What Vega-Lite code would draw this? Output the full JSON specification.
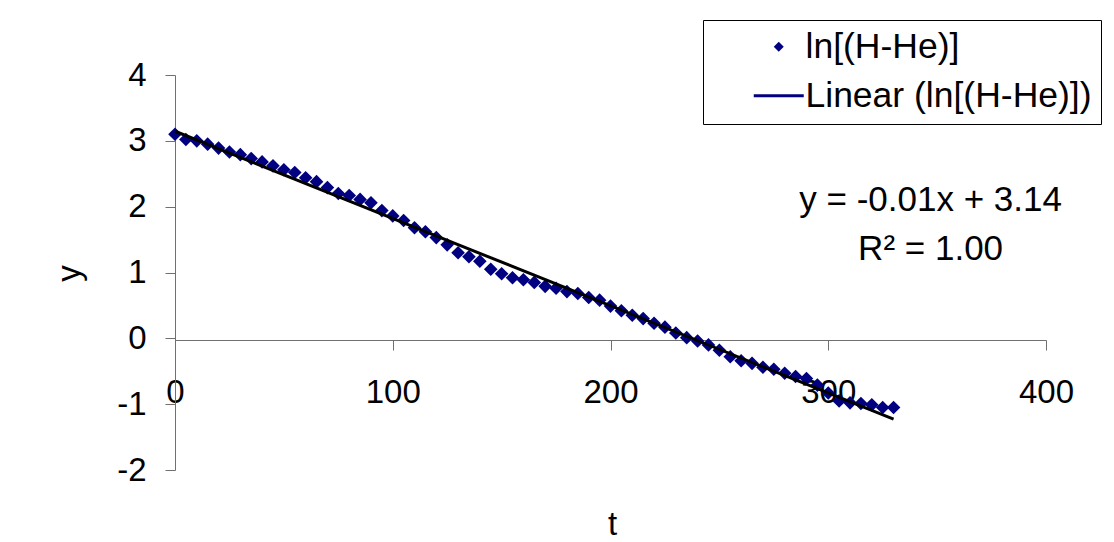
{
  "$schema": "https://vega.github.io/schema/vega-lite/v6.json",
  "width": 871,
  "height": 395,
  "autosize": "none",
  "padding": {"left": 175, "top": 75, "right": 68, "bottom": 72},
  "background": "white",
  "config": {
    "font": "Liberation Sans",
    "view": {"stroke": null},
    "axis": {
      "grid": false,
      "labelFont": "Liberation Sans",
      "titleFont": "Liberation Sans",
      "labelFontSize": 33,
      "titleFontSize": 33,
      "labelColor": "#000000",
      "titleColor": "#000000",
      "titleFontWeight": "normal",
      "domainColor": "#707070",
      "tickColor": "#707070",
      "tickSize": 10,
      "labelOverlap": false,
      "labelFlush": false
    }
  },
  "data": {
    "values": [
      {"t": 0, "v": 3.10}, {"t": 5, "v": 3.02}, {"t": 10, "v": 3.00}, {"t": 15, "v": 2.95},
      {"t": 20, "v": 2.89}, {"t": 25, "v": 2.83}, {"t": 30, "v": 2.79}, {"t": 35, "v": 2.73},
      {"t": 40, "v": 2.68}, {"t": 45, "v": 2.62}, {"t": 50, "v": 2.56}, {"t": 55, "v": 2.52},
      {"t": 60, "v": 2.44}, {"t": 65, "v": 2.38}, {"t": 70, "v": 2.29}, {"t": 75, "v": 2.20},
      {"t": 80, "v": 2.17}, {"t": 85, "v": 2.11}, {"t": 90, "v": 2.06}, {"t": 95, "v": 1.94},
      {"t": 100, "v": 1.86}, {"t": 105, "v": 1.79}, {"t": 110, "v": 1.68}, {"t": 115, "v": 1.62},
      {"t": 120, "v": 1.53}, {"t": 125, "v": 1.42}, {"t": 130, "v": 1.30}, {"t": 135, "v": 1.24},
      {"t": 140, "v": 1.17}, {"t": 145, "v": 1.05}, {"t": 150, "v": 0.98}, {"t": 155, "v": 0.92},
      {"t": 160, "v": 0.89}, {"t": 165, "v": 0.85}, {"t": 170, "v": 0.79}, {"t": 175, "v": 0.76},
      {"t": 180, "v": 0.71}, {"t": 185, "v": 0.68}, {"t": 190, "v": 0.62}, {"t": 195, "v": 0.58},
      {"t": 200, "v": 0.49}, {"t": 205, "v": 0.42}, {"t": 210, "v": 0.35}, {"t": 215, "v": 0.30},
      {"t": 220, "v": 0.23}, {"t": 225, "v": 0.17}, {"t": 230, "v": 0.08}, {"t": 235, "v": 0.01},
      {"t": 240, "v": -0.04}, {"t": 245, "v": -0.10}, {"t": 250, "v": -0.18}, {"t": 255, "v": -0.28},
      {"t": 260, "v": -0.34}, {"t": 265, "v": -0.38}, {"t": 270, "v": -0.44}, {"t": 275, "v": -0.47},
      {"t": 280, "v": -0.53}, {"t": 285, "v": -0.58}, {"t": 290, "v": -0.61}, {"t": 295, "v": -0.71},
      {"t": 300, "v": -0.83}, {"t": 305, "v": -0.95}, {"t": 310, "v": -0.98}, {"t": 315, "v": -0.99},
      {"t": 320, "v": -1.01}, {"t": 325, "v": -1.05}, {"t": 330, "v": -1.05}
    ]
  },
  "layer": [
    {
      "mark": {"type": "point", "filled": true, "fill": "#000080", "opacity": 1, "size": 185},
      "encoding": {
        "x": {
          "field": "t", "type": "quantitative",
          "scale": {"domain": [0, 400], "nice": false, "zero": false},
          "axis": {
            "title": "t", "values": [0, 100, 200, 300, 400], "offset": -130,
            "labelPadding": 26, "labelBaseline": "top",
            "labelExpr": "'' + datum.value",
            "titleX": 437, "titleY": 184, "titleBaseline": "middle", "titleAlign": "center"
          }
        },
        "y": {
          "field": "v", "type": "quantitative",
          "scale": {"domain": [-2, 4], "nice": false, "zero": false},
          "axis": {
            "title": "y", "values": [-2, -1, 0, 1, 2, 3, 4],
            "labelPadding": 19,
            "labelExpr": "'' + datum.value",
            "titleX": -106, "titleY": 198, "titleAngle": 270, "titleBaseline": "middle", "titleAlign": "center"
          }
        },
        "shape": {
          "datum": "ln[(H-He)]", "type": "nominal",
          "scale": {
            "domain": ["ln[(H-He)]", "Linear (ln[(H-He)])"],
            "range": ["M0,-1L1,0L0,1L-1,0Z", "M-5,-0.3L5,-0.3L5,0.3L-5,0.3Z"]
          },
          "legend": {
            "title": null,
            "orient": "none",
            "legendX": 528,
            "legendY": -55,
            "padding": 9,
            "fillColor": "white",
            "strokeColor": "#000000",
            "labelFont": "Liberation Sans",
            "labelFontSize": 35.5,
            "labelColor": "#000000",
            "labelLimit": 500,
            "symbolSize": 100,
            "symbolOffset": 49,
            "labelOffset": 9,
            "rowPadding": 12,
            "symbolOpacity": 1,
            "encode": {
              "symbols": {
                "fill": {"condition": {"test": "datum.value !== 'ln[(H-He)]'", "value": "#000000"}, "value": "#000080"},
                "strokeWidth": {"value": 0}
              }
            }
          }
        }
      }
    },
    {
      "transform": [{"regression": "v", "on": "t", "method": "linear", "extent": [0, 330]}],
      "mark": {"type": "line", "color": "#000000", "strokeWidth": 3},
      "encoding": {
        "x": {"field": "t", "type": "quantitative"},
        "y": {"field": "v", "type": "quantitative"}
      }
    },
    {
      "data": {"values": [{"label": "y = -0.01x + 3.14", "tx": 347, "ty": 1.94}, {"label": "R² = 1.00", "tx": 347, "ty": 1.185}]},
      "mark": {"type": "text", "font": "Liberation Sans", "fontSize": 35, "align": "center", "baseline": "alphabetic", "color": "#000000"},
      "encoding": {
        "x": {"field": "tx", "type": "quantitative"},
        "y": {"field": "ty", "type": "quantitative"},
        "text": {"field": "label"}
      }
    }
  ]
}
